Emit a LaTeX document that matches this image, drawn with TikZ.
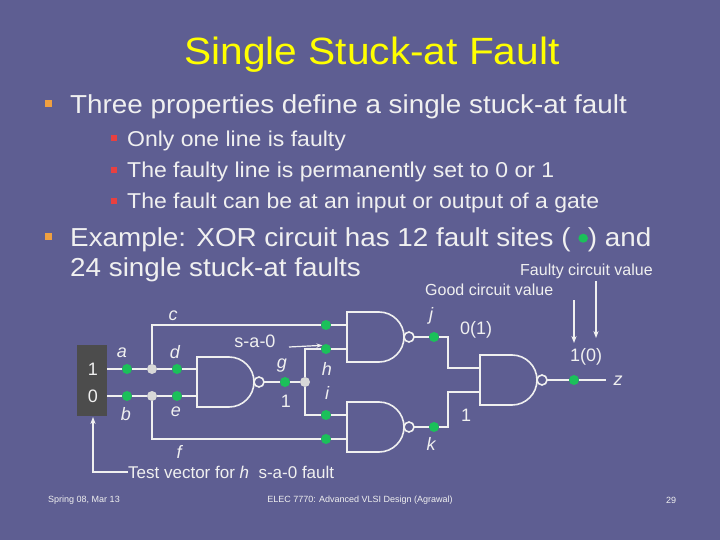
\documentclass[tikz,border=0pt]{standalone}
\usepackage{fontspec}
\setmainfont{Liberation Sans}
\usetikzlibrary{arrows.meta}
\definecolor{bg}{HTML}{5E5E92}
\definecolor{tx}{HTML}{F0F0F0}
\definecolor{ttl}{HTML}{FFFF00}
\definecolor{gdot}{HTML}{1BC05A}
\definecolor{wdot}{HTML}{D8D8D8}
\definecolor{obul}{HTML}{F0A040}
\definecolor{rbul}{HTML}{E84040}
\definecolor{boxc}{HTML}{4C4C4C}
\newcommand{\fs}[1]{\fontsize{#1}{#1}\selectfont}
\newcommand{\wide}[1]{\scalebox{1.07}[1]{#1}}
\tikzset{
  wire/.style={draw=tx,line width=1.6pt},
  fd/.style={circle,fill=gdot,inner sep=0pt,minimum size=10pt},
  jd/.style={circle,fill=wdot,inner sep=0pt,minimum size=10pt},
  lbl/.style={text=tx,inner sep=0pt,font=\fs{18}\itshape},
  val/.style={text=tx,inner sep=0pt,font=\fs{18}},
  txt/.style={text=tx,inner sep=0pt,anchor=west},
  ob/.style={fill=obul,minimum size=7pt,inner sep=0pt},
  rb/.style={fill=rbul,minimum size=6pt,inner sep=0pt},
  arr/.style={draw=tx,line width=1.2pt,-{Stealth[length=7pt]}}
}
\newcommand{\nandg}[3]{% name, x0, ymid
  \draw[wire] (#2,#3-25) -- ++(32,0) arc(-90:90:25) -- (#2,#3+25) -- cycle;
  \draw[wire] (#2+62,#3) circle(5);
  \coordinate (#1in1) at (#2,#3-12);
  \coordinate (#1in2) at (#2,#3+12);
  \coordinate (#1out) at (#2+67,#3);
}
\begin{document}
\begin{tikzpicture}[x=1pt,y=-1pt]
\fill[bg] (0,0) rectangle (720,540);
\useasboundingbox (0,0) rectangle (720,540);
\node[text=ttl,font=\fs{38}] (title) at (372,55) {\wide{Single Stuck-at Fault}};
\node[ob] (b1) at (48,104) {};
\node[txt,font=\fs{26}] (t1) at (70,107) {\wide{Three properties define a single stuck-at fault}};
\node[rb] (s1) at (114,138) {};
\node[txt,font=\fs{21.5}] (t2) at (127,141) {\wide{Only one line is faulty}};
\node[rb] (s2) at (114,170) {};
\node[txt,font=\fs{21.5}] (t3) at (127,172) {\wide{The faulty line is permanently set to 0 or 1}};
\node[rb] (s3) at (114,201) {};
\node[txt,font=\fs{21.5}] (t4) at (127,203) {\wide{The fault can be at an input or output of a gate}};
\node[ob] (b2) at (48,236) {};
\node[txt,font=\fs{26}] (t5) at (70,240) {\wide{Example: XOR circuit has 12 fault sites ( \raisebox{4pt}{\textcolor{gdot}{\tikz\fill (0,0) circle(4.5pt);}}) and}};
\node[txt,font=\fs{26}] (t6) at (70,270) {\wide{24 single stuck-at faults}};
\node[txt,font=\fs{16}] (fcv) at (520,271) {Faulty circuit value};
\node[txt,font=\fs{16}] (gcv) at (425,290) {Good circuit value};

% input box
\fill[boxc] (77,345) rectangle (107,416);
\node[val] (one) at (93,369) {1};
\node[val] (zero) at (93,396) {0};

\nandg{G}{197}{382}
\nandg{J}{347}{337}
\nandg{K}{347}{427}
\nandg{Z}{480}{380}

\node[fd] (a) at (127,369) {};
\node[jd] (ja) at (152,369) {};
\node[fd] (d) at (177,369) {};
\node[fd] (b) at (127,396) {};
\node[jd] (jb) at (152,396) {};
\node[fd] (e) at (177,396) {};
\node[fd] (g) at (285,382) {};
\node[jd] (jg) at (305,382) {};
\node[fd] (c) at (326,325) {};
\node[fd] (h) at (326,349) {};
\node[fd] (i) at (326,415) {};
\node[fd] (f) at (326,439) {};
\node[fd] (j) at (434,337) {};
\node[fd] (k) at (434,427) {};
\node[fd] (z) at (574,380) {};
\coordinate (zend) at (606,380);

\draw[wire] (107,369) -- (a) -- (ja) -- (d) -- (d -| Gin1);
\draw[wire] (107,396) -- (b) -- (jb) -- (e) -- (e -| Gin2);
\draw[wire] (ja) |- (c) -- (Jin1);
\draw[wire] (jb) |- (f) -- (Kin2);
\draw[wire] (Gout) -- (g) -- (jg);
\draw[wire] (jg) |- (h) -- (Jin2);
\draw[wire] (jg) |- (i) -- (Kin1);
\draw[wire] (Jout) -- (j) -| (448,368) -- (Zin1);
\draw[wire] (Kout) -- (k) -| (448,392) -- (Zin2);
\draw[wire] (Zout) -- (z) -- (zend);

\node[lbl] (la) at (122,353) {a};
\node[lbl] (lb) at (126,414) {b};
\node[lbl] (lc) at (173,316) {c};
\node[lbl] (ld) at (175,352) {d};
\node[lbl] (le) at (176,412) {e};
\node[lbl] (lf) at (179,452) {f};
\node[lbl] (lg) at (282,366) {g};
\node[val] (lg1) at (286,401) {1};
\node[lbl] (lh) at (327,369) {h};
\node[lbl] (li) at (327,393) {i};
\node[lbl] (lj) at (431,316) {j};
\node[val] (vj) at (476,330) {0(1)};
\node[lbl] (lk) at (431,444) {k};
\node[val] (vk) at (466,415) {1};
\node[val] (vz) at (586,357) {1(0)};
\node[lbl] (lz) at (618,381) {z};
\node[val] (sa0) at (255,341) {s-a-0};
\draw[draw=tx,line width=1.2pt,-{Stealth[length=6pt]}] (289,347) -- (h.north west);

\coordinate (ga) at (574,300);
\coordinate (fa) at (596,281);
\draw[arr] (ga) -- (574,343);
\draw[arr] (fa) -- (596,338);

\node[txt,font=\fs{17}] (tv) at (128,472) {Test vector for \textit{h}\ \ s-a-0 fault};
\draw[arr] (tv.west) -| (93,417);

\node[text=tx,font=\fs{9}] (f1) at (84,500) {Spring 08, Mar 13};
\node[text=tx,font=\fs{9}] (f2) at (360,500) {ELEC 7770: Advanced VLSI Design (Agrawal)};
\node[text=tx,font=\fs{9}] (f3) at (671,500) {29};
\end{tikzpicture}
\end{document}
